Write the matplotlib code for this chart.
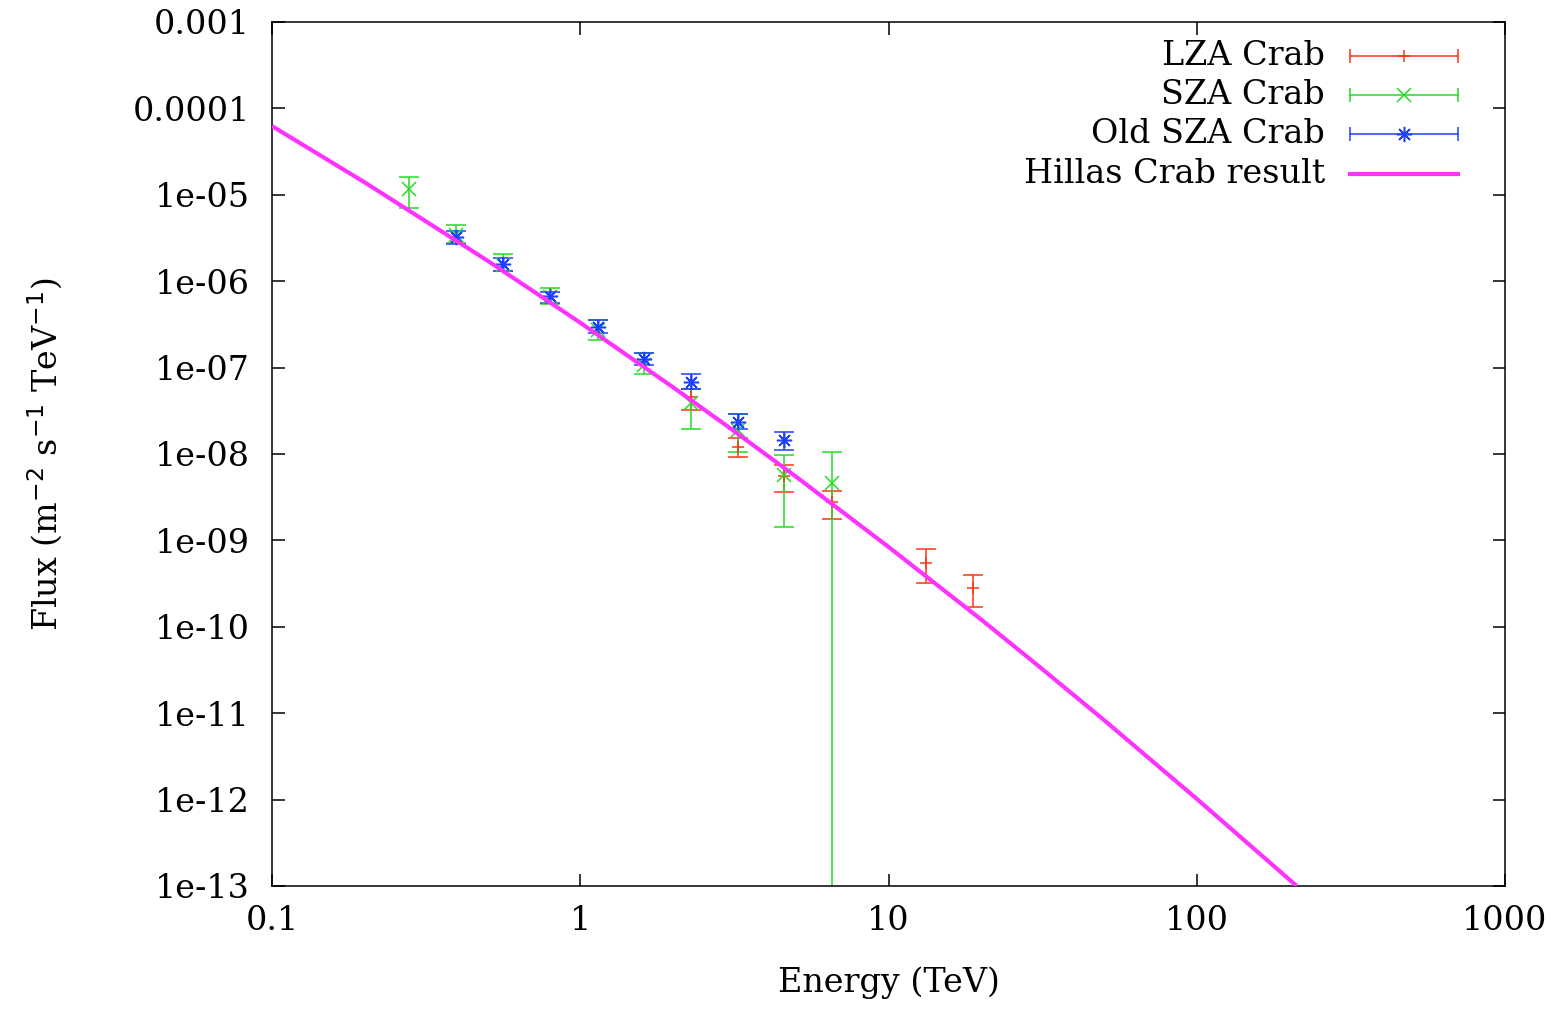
import matplotlib
matplotlib.use("Agg")
import matplotlib.pyplot as plt
from matplotlib.ticker import FixedLocator, FixedFormatter, NullLocator

# ---------------- data ----------------
# LZA Crab (red)
lza_energy = [2.29, 3.26, 4.59, 6.54, 13.2, 18.75]
lza_flux = [4.57e-8, 1.22e-8, 5.61e-9, 2.76e-9, 5.52e-10, 2.81e-10]
lza_low = [3.23e-8, 9.3e-9, 3.67e-9, 1.77e-9, 3.19e-10, 1.68e-10]
lza_high = [5.61e-8, 1.52e-8, 7.46e-9, 3.73e-9, 7.89e-10, 3.98e-10]

# SZA Crab (green)
sza_energy = [0.279, 0.395, 0.563, 0.80, 1.14, 1.61, 2.29, 3.26, 4.59, 6.54]
sza_flux = [1.16e-5, 3.43e-6, 1.55e-6, 6.6e-7, 2.72e-7, 1.07e-7, 3.93e-8, 1.90e-8, 5.71e-9, 4.58e-9]
sza_low = [6.98e-6, 2.75e-6, 1.31e-6, 5.45e-7, 2.09e-7, 8.44e-8, 1.95e-8, 1.06e-8, 1.42e-9, 0.0]
sza_high = [1.62e-5, 4.47e-6, 2.07e-6, 8.28e-7, 3.56e-7, 1.49e-7, 5.61e-8, 2.88e-8, 9.73e-9, 1.06e-8]

# Old SZA Crab (blue)
old_energy = [0.395, 0.563, 0.80, 1.14, 1.61, 2.29, 3.26, 4.59]
old_flux = [3.22e-6, 1.57e-6, 6.74e-7, 2.97e-7, 1.25e-7, 6.87e-8, 2.37e-8, 1.45e-8]
old_low = [2.68e-6, 1.31e-6, 5.55e-7, 2.49e-7, 1.06e-7, 5.61e-8, 1.95e-8, 1.11e-8]
old_high = [3.81e-6, 1.84e-6, 7.56e-7, 3.56e-7, 1.49e-7, 8.36e-8, 2.88e-8, 1.81e-8]

# Hillas Crab result (magenta curve)
hillas_energy = [0.1, 0.2, 0.5, 1.0, 2.0, 3.0, 5.0, 10.0, 20.0, 30.0, 50.0, 100.0, 211.0]
hillas_flux = [6.24e-5, 1.39e-5, 1.73e-6, 3.31e-7, 5.92e-8, 2.10e-8, 5.50e-9, 8.41e-10,
               1.21e-10, 3.75e-11, 8.34e-12, 1.02e-12, 1.0e-13]

x_ticks = [0.1, 1, 10, 100, 1000]
x_tick_labels = ["0.1", "1", "10", "100", "1000"]
y_ticks = [1e-3, 1e-4, 1e-5, 1e-6, 1e-7, 1e-8, 1e-9, 1e-10, 1e-11, 1e-12, 1e-13]
y_tick_labels = ["0.001", "0.0001", "1e-05", "1e-06", "1e-07", "1e-08", "1e-09",
                 "1e-10", "1e-11", "1e-12", "1e-13"]

series_labels = ["LZA Crab", "SZA Crab", "Old SZA Crab", "Hillas Crab result"]
c_red, c_green, c_blue, c_mag = "#ff3515", "#22dd22", "#1f3fff", "#ff33ff"

# ---------------- figure ----------------
plt.rcParams["font.family"] = ["DejaVu Serif"]
FS = 24

fig = plt.figure(figsize=(15.62, 10.10), dpi=100)
ax = fig.add_axes([272 / 1562, 1 - 886 / 1010, 1233 / 1562, 864 / 1010])
ax.set_xscale("log")
ax.set_yscale("log")
ax.set_xlim(0.1, 1000)
ax.set_ylim(1e-13, 1e-3)

TINY = 1e-20


def draw_series(E, F, lo, hi, color, marker, ms):
    yerr_lo = [f - max(l, TINY) for f, l in zip(F, lo)]
    yerr_hi = [h - f for f, h in zip(F, hi)]
    ax.errorbar(E, F, yerr=[yerr_lo, yerr_hi], fmt="none", ecolor=color,
                elinewidth=1.1, capsize=7.5, capthick=1.1, zorder=2)
    ax.plot(E, F, ls="none", marker=marker, color=color, ms=ms, mew=1.1, zorder=3)


draw_series(lza_energy, lza_flux, lza_low, lza_high, c_red, "+", 9)
draw_series(sza_energy, sza_flux, sza_low, sza_high, c_green, "x", 9.5)
draw_series(old_energy, old_flux, old_low, old_high, c_blue, (8, 2, 0), 11)
ax.plot(hillas_energy, hillas_flux, color=c_mag, lw=3, zorder=4, solid_capstyle="butt")

# ticks
ax.xaxis.set_major_locator(FixedLocator(x_ticks))
ax.xaxis.set_major_formatter(FixedFormatter(x_tick_labels))
ax.yaxis.set_major_locator(FixedLocator(y_ticks))
ax.yaxis.set_major_formatter(FixedFormatter(y_tick_labels))
ax.xaxis.set_minor_locator(NullLocator())
ax.yaxis.set_minor_locator(NullLocator())
ax.tick_params(which="major", direction="in", top=True, right=True, length=9,
               width=1.1, labelsize=FS)
ax.tick_params(axis="x", pad=14)
ax.tick_params(axis="y", pad=16)
for s in ax.spines.values():
    s.set_linewidth(1.1)

ax.set_xlabel("Energy (TeV)", fontsize=FS)
ax.set_ylabel(r"Flux (m$^{-2}$ s$^{-1}$ TeV$^{-1}$)", fontsize=FS)
ax.xaxis.set_label_coords(0.5, -0.093)
ax.yaxis.set_label_coords(-0.168, 0.5)

# legend drawn in gnuplot style (text right-aligned, sample at right)
leg_y = [0.9606, 0.9155, 0.8704, 0.8241]
x_text = 0.854
x0, x1 = 0.8743, 0.9619
xc = 0.5 * (x0 + x1)
styles = [(c_red, "+", 9), (c_green, "x", 9.5), (c_blue, (8, 2, 0), 11), (c_mag, None, 0)]
for lab, y, (col, mk, ms) in zip(series_labels, leg_y, styles):
    ax.text(x_text, y, lab, transform=ax.transAxes, ha="right", va="center", fontsize=FS)
    if mk is None:
        ax.plot([x0, x1], [y, y], transform=ax.transAxes, color=col, lw=3, clip_on=False)
    else:
        ax.plot([x0, x1], [y, y], transform=ax.transAxes, color=col, lw=1.1, clip_on=False)
        ax.plot([x0, x1], [y, y], transform=ax.transAxes, ls="none", marker="|",
                ms=10, mew=1.1, color=col, clip_on=False)
        ax.plot([xc], [y], transform=ax.transAxes, ls="none", marker=mk, ms=ms,
                mew=1.1, color=col, clip_on=False)

fig.savefig("out.png", dpi=100)
